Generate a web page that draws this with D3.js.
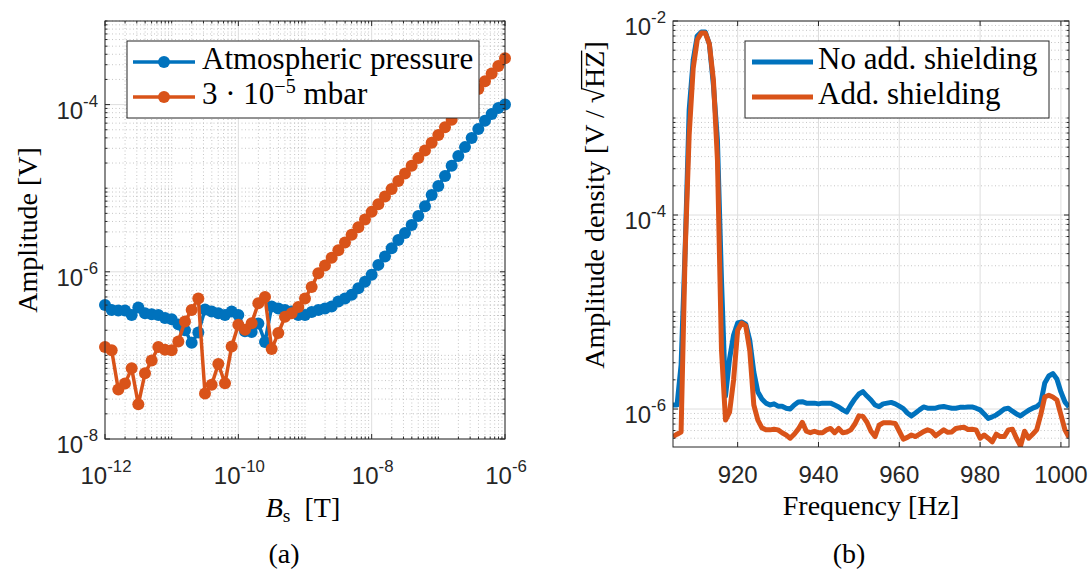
<!DOCTYPE html>
<html>
<head>
<meta charset="utf-8">
<script src="https://cdn.jsdelivr.net/npm/d3@7"></script>
<style>
  body { margin: 0; background: #fff; }
  svg { display: block; }
</style>
</head>
<body>
<svg id="fig" width="1090" height="574"></svg>
<script>
// (a) amplitude vs. applied field, 10 points per decade from 1e-12 T to 1e-6 T
var bField = d3.range(61).map(function (i) { return Math.pow(10, -12 + i / 10); });
var ampAtm = [4.0e-7, 3.5e-7, 3.45e-7, 3.45e-7, 3.05e-7, 3.75e-7, 3.2e-7, 3.1e-7, 3.05e-7, 2.8e-7,
  2.7e-7, 2.35e-7, 2.0e-7, 1.42e-7, 1.88e-7, 3.55e-7, 3.35e-7, 3.2e-7, 3.05e-7, 3.35e-7,
  3.05e-7, 1.95e-7, 1.9e-7, 2.4e-7, 1.45e-7, 3.85e-7, 3.65e-7, 3.5e-7, 3.35e-7, 3.05e-7,
  3.05e-7, 3.3e-7, 3.5e-7, 3.65e-7, 3.85e-7, 4.4e-7, 4.8e-7, 5.3e-7, 6.35e-7, 7.6e-7,
  9.2e-7, 1.21e-6, 1.52e-6, 1.91e-6, 2.4e-6, 2.91e-6, 3.63e-6, 4.65e-6, 6.1e-6, 8.3e-6,
  1.06e-5, 1.40e-5, 1.85e-5, 2.43e-5, 3.1e-5, 3.98e-5, 5.1e-5, 6.4e-5, 7.7e-5, 9.1e-5,
  1.0e-4];
var ampVac = [1.26e-7, 1.15e-7, 3.9e-8, 4.6e-8, 7.0e-8, 2.6e-8, 6.1e-8, 8.7e-8, 1.26e-7, 1.17e-7,
  1.15e-7, 1.47e-7, 2.55e-7, 3.5e-7, 4.8e-7, 3.5e-8, 4.45e-8, 7.9e-8, 4.65e-8, 1.28e-7,
  2.32e-7, 2.02e-7, 2.43e-7, 4.2e-7, 5.0e-7, 1.19e-7, 1.85e-7, 2.9e-7, 3.2e-7, 3.8e-7,
  4.8e-7, 6.6e-7, 9.6e-7, 1.19e-6, 1.47e-6, 1.81e-6, 2.24e-6, 2.77e-6, 3.41e-6, 4.22e-6,
  5.21e-6, 6.44e-6, 7.96e-6, 9.8e-6, 1.22e-5, 1.50e-5, 1.86e-5, 2.29e-5, 2.83e-5, 3.50e-5,
  4.33e-5, 5.35e-5, 6.6e-5, 8.2e-5, 1.01e-4, 1.25e-4, 1.54e-4, 1.90e-4, 2.35e-4, 2.90e-4,
  3.59e-4];
var legendA = ["Atmospheric pressure", "3 · 10", "−5", " mbar"];

// (b) amplitude density spectrum, 1 Hz bins from 904 Hz to 1002 Hz
var freq = d3.range(904, 1003);
var psdNoShield = [1.10e-6, 1.10e-6, 2.84e-6, 4.35e-5, 1.21e-3, 3.96e-3, 7.0e-3, 7.7e-3, 7.7e-3, 5.8e-3,
  2.19e-3, 5.9e-4, 2.14e-5, 1.36e-6, 3.3e-6, 5.8e-6, 7.7e-6, 7.9e-6, 7.5e-6, 5.1e-6,
  2.41e-6, 1.50e-6, 1.27e-6, 1.15e-6, 1.10e-6, 1.13e-6, 1.07e-6, 1.07e-6, 1.02e-6, 1.00e-6,
  1.10e-6, 1.18e-6, 1.19e-6, 1.15e-6, 1.15e-6, 1.15e-6, 1.13e-6, 1.15e-6, 1.15e-6, 1.15e-6,
  1.10e-6, 1.05e-6, 9.8e-7, 9.3e-7, 1.10e-6, 1.27e-6, 1.43e-6, 1.51e-6, 1.36e-6, 1.24e-6,
  1.10e-6, 1.06e-6, 1.13e-6, 1.15e-6, 1.17e-6, 1.13e-6, 1.07e-6, 1.01e-6, 9.1e-7, 8.5e-7,
  9.1e-7, 9.8e-7, 1.05e-6, 1.02e-6, 1.02e-6, 1.02e-6, 1.05e-6, 1.06e-6, 1.04e-6, 1.02e-6,
  1.02e-6, 1.04e-6, 1.04e-6, 1.05e-6, 1.05e-6, 1.02e-6, 9.8e-7, 8.9e-7, 8.0e-7, 8.3e-7,
  8.7e-7, 9.3e-7, 1.00e-6, 1.02e-6, 9.5e-7, 8.9e-7, 8.5e-7, 9.1e-7, 9.7e-7, 1.02e-6,
  1.06e-6, 1.15e-6, 1.85e-6, 2.19e-6, 2.32e-6, 2.04e-6, 1.50e-6, 1.18e-6, 1.05e-6];
var psdShield = [5.2e-7, 5.5e-7, 5.8e-7, 4.06e-5, 6.7e-4, 3.27e-3, 6.4e-3, 7.5e-3, 7.5e-3, 5.8e-3,
  2.47e-3, 3.69e-4, 4.06e-6, 7.7e-7, 9.3e-7, 2.0e-6, 6.5e-6, 7.7e-6, 7.2e-6, 4.0e-6,
  1.10e-6, 7.7e-7, 6.4e-7, 6.1e-7, 6.1e-7, 6.2e-7, 6.1e-7, 5.7e-7, 5.4e-7, 5.0e-7,
  5.5e-7, 6.2e-7, 7.3e-7, 5.9e-7, 5.7e-7, 5.9e-7, 5.7e-7, 5.7e-7, 6.1e-7, 6.3e-7,
  5.7e-7, 6.3e-7, 5.7e-7, 5.8e-7, 6.1e-7, 7.0e-7, 8.5e-7, 8.4e-7, 7.3e-7, 5.9e-7,
  5.2e-7, 6.8e-7, 7.2e-7, 7.2e-7, 7.2e-7, 7.1e-7, 5.9e-7, 4.9e-7, 5.1e-7, 5.4e-7,
  5.2e-7, 5.5e-7, 5.85e-7, 6.1e-7, 5.9e-7, 5.3e-7, 5.7e-7, 6.1e-7, 5.75e-7, 5.8e-7,
  6.3e-7, 6.4e-7, 6.5e-7, 6.15e-7, 6.2e-7, 6.1e-7, 5.0e-7, 5.4e-7, 5.0e-7, 4.6e-7,
  5.5e-7, 5.2e-7, 5.2e-7, 6.1e-7, 6.2e-7, 5.0e-7, 4.16e-7, 5.9e-7, 5.0e-7, 5.5e-7,
  6.1e-7, 8.7e-7, 1.33e-6, 1.39e-6, 1.33e-6, 1.24e-6, 8.7e-7, 6.1e-7, 5.1e-7];
var legendB = ["No add. shielding", "Add. shielding"];

// tick values
var xTicksA = [1e-12, 1e-10, 1e-8, 1e-6];
var yTicksA = [1e-8, 1e-6, 1e-4];
var xTicksB = [920, 940, 960, 980, 1000];
var yTicksB = [1e-6, 1e-4, 1e-2];

var BLUE = "#0072BD", ORANGE = "#D95319", AXCOL = "#262626";
var SANS = "'Liberation Sans', Arial, Helvetica, sans-serif";
var SERIF = "'Liberation Serif', 'Times New Roman', serif";
var TICKFS = 24, LABFS = 28, LEGFS = 31;

var svg = d3.select("#fig");

var xA = d3.scaleLog().domain([1e-12, 1e-6]).range([105, 505]);
var yA = d3.scaleLog().domain([1e-8, 1e-3]).range([439, 21]);
var xB = d3.scaleLinear().domain([904, 1002]).range([673, 1069]);
var yB = d3.scaleLog().domain([4.06e-7, 1e-2]).range([447, 21]);

function logMinors (dom){
  var out = [];
  var lo = Math.floor(Math.log10(dom[0])), hi = Math.ceil(Math.log10(dom[1]));
  for (var k = lo; k <= hi; k++){
    for (var m = 1; m < 10; m++){
      var v = m * Math.pow(10, k);
      if (v >= dom[0] * 0.999 && v <= dom[1] * 1.001) out.push(v);
    }
  }
  return out;
}

function powLabel (txt, exp){
  txt.append("tspan").text("10");
  txt.append("tspan")
    .attr("dy", -0.5 * TICKFS)
    .attr("font-size", 0.7 * TICKFS)
    .text(exp);
}

// grid of one panel
function drawFrame (g, x, y, o){
  var x0 = x.range()[0], x1 = x.range()[1];
  var y0 = y.range()[0], y1 = y.range()[1];
  var grid = g.append("g");
  o.xMinor.forEach(function (v){
    grid.append("line").attr("x1", x(v)).attr("x2", x(v)).attr("y1", y1).attr("y2", y0)
      .attr("stroke", "#b8b8b8").attr("stroke-width", 0.8).attr("stroke-dasharray", "1,2.5");
  });
  o.yMinor.forEach(function (v){
    grid.append("line").attr("x1", x0).attr("x2", x1).attr("y1", y(v)).attr("y2", y(v))
      .attr("stroke", "#b8b8b8").attr("stroke-width", 0.8).attr("stroke-dasharray", "1,2.5");
  });
  o.xMajor.forEach(function (v){
    grid.append("line").attr("x1", x(v)).attr("x2", x(v)).attr("y1", y1).attr("y2", y0)
      .attr("stroke", "#dedede").attr("stroke-width", 1);
  });
  o.yMajor.forEach(function (v){
    grid.append("line").attr("x1", x0).attr("x2", x1).attr("y1", y(v)).attr("y2", y(v))
      .attr("stroke", "#dedede").attr("stroke-width", 1);
  });
}

// box and inward ticks
function drawBox (g, x, y, o){
  var x0 = x.range()[0], x1 = x.range()[1];
  var y0 = y.range()[0], y1 = y.range()[1];
  var ax = g.append("g").attr("stroke", AXCOL).attr("stroke-width", 1);
  function xt (v, len){
    ax.append("line").attr("x1", x(v)).attr("x2", x(v)).attr("y1", y0).attr("y2", y0 - len);
    ax.append("line").attr("x1", x(v)).attr("x2", x(v)).attr("y1", y1).attr("y2", y1 + len);
  }
  function yt (v, len){
    ax.append("line").attr("x1", x0).attr("x2", x0 + len).attr("y1", y(v)).attr("y2", y(v));
    ax.append("line").attr("x1", x1).attr("x2", x1 - len).attr("y1", y(v)).attr("y2", y(v));
  }
  if (o.xMinorTicks) o.xMinor.forEach(function (v){ xt(v, 2.5); });
  o.yMinor.forEach(function (v){ yt(v, 2.5); });
  o.xMajor.forEach(function (v){ xt(v, 5); });
  o.yMajor.forEach(function (v){ yt(v, 5); });
  ax.append("rect").attr("x", x0).attr("y", y1).attr("width", x1 - x0).attr("height", y0 - y1)
    .attr("fill", "none");
}

function yLogLabels (g, x, y, ticks){
  ticks.forEach(function (v){
    var t = g.append("text")
      .attr("x", x.range()[0] - 7)
      .attr("y", y(v) + 14)
      .attr("text-anchor", "end")
      .attr("font-family", SANS)
      .attr("font-size", TICKFS)
      .attr("fill", AXCOL);
    powLabel(t, String(Math.round(Math.log10(v))));
  });
}

// ---------- panel (a) ----------
var ga = svg.append("g");
var optsA = {xMajor: xTicksA, yMajor: yTicksA,
  xMinor: logMinors(xA.domain()).filter(function (v){ return xTicksA.indexOf(v) < 0; }),
  yMinor: logMinors(yA.domain()).filter(function (v){ return yTicksA.indexOf(v) < 0; }),
  xMinorTicks: true};
drawFrame(ga, xA, yA, optsA);

var lineA = d3.line().x(function (d){ return xA(d[0]); }).y(function (d){ return yA(d[1]); });
[[ampAtm, BLUE], [ampVac, ORANGE]].forEach(function (s){
  var pts = bField.map(function (b, i){ return [b, s[0][i]]; });
  ga.append("path").attr("d", lineA(pts))
    .attr("fill", "none").attr("stroke", s[1]).attr("stroke-width", 3.5)
    .attr("stroke-linejoin", "round");
  ga.selectAll(null).data(pts).enter().append("circle")
    .attr("cx", function (d){ return xA(d[0]); })
    .attr("cy", function (d){ return yA(d[1]); })
    .attr("r", 6)
    .attr("fill", s[1]);
});
drawBox(ga, xA, yA, optsA);

xTicksA.forEach(function (v){
  var t = ga.append("text")
    .attr("x", xA(v) + 1)
    .attr("y", 484)
    .attr("text-anchor", "middle")
    .attr("font-family", SANS)
    .attr("font-size", TICKFS)
    .attr("fill", AXCOL);
  powLabel(t, String(Math.round(Math.log10(v))));
});
yLogLabels(ga, xA, yA, yTicksA);

// axis labels (a)
var xla = ga.append("text").attr("x", 303).attr("y", 517).attr("text-anchor", "middle")
  .attr("font-family", SERIF).attr("font-size", LABFS).attr("fill", "#000");
xla.append("tspan").attr("font-style", "italic").text("B");
xla.append("tspan").attr("font-size", LABFS * 0.7).attr("dy", 5).text("s");
xla.append("tspan").attr("dy", -5).text("\u2002[T]");

ga.append("text")
  .attr("transform", "translate(37,230) rotate(-90)")
  .attr("text-anchor", "middle")
  .attr("font-family", SERIF).attr("font-size", LABFS).attr("fill", "#000")
  .text("Amplitude [V]");

ga.append("text").attr("x", 284).attr("y", 563).attr("text-anchor", "middle")
  .attr("font-family", SERIF).attr("font-size", LABFS).text("(a)");

// legend (a)
var lga = ga.append("g");
lga.append("rect").attr("x", 127).attr("y", 41).attr("width", 352).attr("height", 77)
  .attr("fill", "#fff").attr("stroke", AXCOL).attr("stroke-width", 1);
[[BLUE, 62], [ORANGE, 97]].forEach(function (e){
  lga.append("line").attr("x1", 133).attr("x2", 195).attr("y1", e[1]).attr("y2", e[1])
    .attr("stroke", e[0]).attr("stroke-width", 3.5);
  lga.append("circle").attr("cx", 164).attr("cy", e[1]).attr("r", 6).attr("fill", e[0]);
});
lga.append("text").attr("x", 202).attr("y", 69)
  .attr("font-family", SERIF).attr("font-size", LEGFS).text(legendA[0]);
var lt2 = lga.append("text").attr("x", 202).attr("y", 104)
  .attr("font-family", SERIF).attr("font-size", LEGFS);
lt2.append("tspan").text(legendA[1]);
lt2.append("tspan").attr("dy", -11).attr("font-size", LEGFS * 0.65).text(legendA[2]);
lt2.append("tspan").attr("dy", 11).text(legendA[3]);

// ---------- panel (b) ----------
var gb = svg.append("g");
var optsB = {xMajor: xTicksB, yMajor: yTicksB, xMinor: [],
  yMinor: logMinors(yB.domain()).filter(function (v){ return yTicksB.indexOf(v) < 0; }),
  xMinorTicks: false};
drawFrame(gb, xB, yB, optsB);

svg.append("defs").append("clipPath").attr("id", "clipb")
  .append("rect").attr("x", 673).attr("y", 21).attr("width", 396).attr("height", 426);

var lineB = d3.line().x(function (d){ return xB(d[0]); }).y(function (d){ return yB(d[1]); });
[[psdNoShield, BLUE], [psdShield, ORANGE]].forEach(function (s){
  var pts = freq.map(function (f, i){ return [f, s[0][i]]; });
  gb.append("path").attr("d", lineB(pts)).attr("clip-path", "url(#clipb)")
    .attr("fill", "none").attr("stroke", s[1]).attr("stroke-width", 5)
    .attr("stroke-linejoin", "round");
});
drawBox(gb, xB, yB, optsB);

xTicksB.forEach(function (v){
  gb.append("text")
    .attr("x", xB(v))
    .attr("y", 483)
    .attr("text-anchor", "middle")
    .attr("font-family", SANS)
    .attr("font-size", TICKFS)
    .attr("fill", AXCOL)
    .text(v);
});
yLogLabels(gb, xB, yB, yTicksB);

gb.append("text").attr("x", 871).attr("y", 515).attr("text-anchor", "middle")
  .attr("font-family", SERIF).attr("font-size", LABFS).text("Frequency [Hz]");

var ylb = gb.append("g").attr("transform", "translate(604,205) rotate(-90)");
var ylbText = "Amplitude density [V / \u221AHZ]";
var ylt = ylb.append("text").attr("x", 0).attr("y", 0).attr("text-anchor", "middle")
  .attr("font-family", SERIF).attr("font-size", LABFS).text(ylbText);
// bar over the radicand
var iRoot = ylbText.indexOf("\u221A");
var eRoot = ylt.node().getExtentOfChar(iRoot);
var eZ = ylt.node().getExtentOfChar(iRoot + 2);
ylb.append("line")
  .attr("x1", eRoot.x + eRoot.width - 1.5).attr("x2", eZ.x + eZ.width)
  .attr("y1", -0.8 * LABFS).attr("y2", -0.8 * LABFS)
  .attr("stroke", "#000").attr("stroke-width", 1.3);

gb.append("text").attr("x", 849).attr("y", 563).attr("text-anchor", "middle")
  .attr("font-family", SERIF).attr("font-size", LABFS).text("(b)");

// legend (b)
var lgb = gb.append("g");
lgb.append("rect").attr("x", 745).attr("y", 41).attr("width", 304).attr("height", 77)
  .attr("fill", "#fff").attr("stroke", AXCOL).attr("stroke-width", 1);
[[BLUE, 62, legendB[0], 69], [ORANGE, 97, legendB[1], 104]].forEach(function (e){
  lgb.append("line").attr("x1", 752).attr("x2", 813).attr("y1", e[1]).attr("y2", e[1])
    .attr("stroke", e[0]).attr("stroke-width", 5);
  lgb.append("text").attr("x", 818).attr("y", e[3])
    .attr("font-family", SERIF).attr("font-size", LEGFS).text(e[2]);
});
</script>
</body>
</html>
